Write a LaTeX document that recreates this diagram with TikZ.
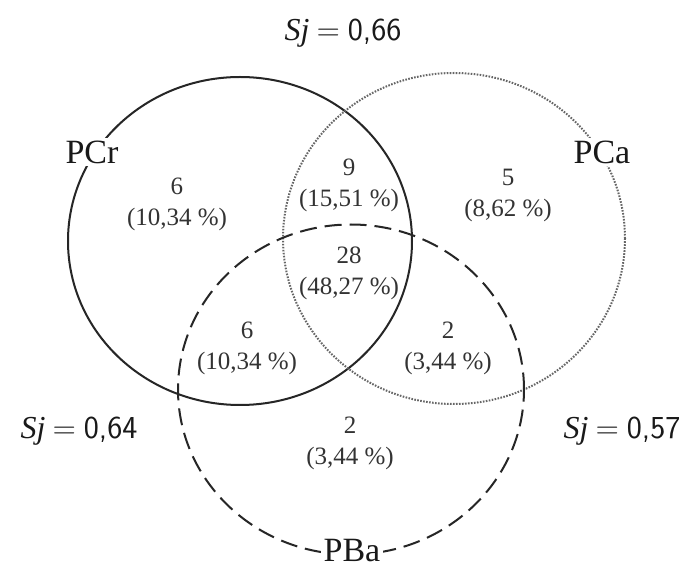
\documentclass[tikz,border=0pt]{standalone}
\usepackage{fontspec}
\setmainfont{Liberation Serif}
\begin{document}
\begin{tikzpicture}[x=1pt,y=-1pt,
  setA/.style={line width=2pt, black!85},
  setB/.style={line width=2pt, black!60, dash pattern=on 1.6pt off 1.4pt},
  setC/.style={line width=2pt, black!85, dash pattern=on 17pt off 8pt},
  setlabel/.style={fill=white, inner sep=3pt, text=black!90, font=\fontsize{34}{36}\selectfont},
  region/.style={align=center, text=black!80, inner sep=0pt, font=\fontsize{25}{31}\selectfont},
  sjlabel/.style={inner sep=0pt, text=black!90, font=\fontsize{32}{34}\selectfont}]
\useasboundingbox (0,0) rectangle (689,569);
\fill[white] (0,0) rectangle (689,569);
% circles
\draw[setA] (240,241) ellipse [x radius=172pt, y radius=164pt];
\draw[setB] (454,238.5) ellipse [x radius=171pt, y radius=165.5pt];
\draw[setC] (351,389.5) ellipse [x radius=173pt, y radius=165pt];
% set labels
\node[setlabel] (pcr) at (92,152) {PCr};
\node[setlabel] (pca) at (602,152) {PCa};
\node[setlabel] (pba) at (352,551) {PBa};
% region counts
\node[region] (r1) at (177,204) {6\\(10,34 \%)};
\node[region] (r2) at (349,185) {9\\(15,51 \%)};
\node[region] (r3) at (508,195) {5\\(8,62 \%)};
\node[region] (r4) at (349,273) {28\\(48,27 \%)};
\node[region] (r5) at (247,348) {6\\(10,34 \%)};
\node[region] (r6) at (448,348) {2\\(3,44 \%)};
\node[region] (r7) at (350,443) {2\\(3,44 \%)};
% similarity indices
\node[sjlabel] (sj1) at (343,33) {\textit{Sj}\kern7pt{\sffamily =\kern8pt 0,66}};
\node[sjlabel] (sj2) at (79,431) {\textit{Sj}\kern7pt{\sffamily =\kern8pt 0,64}};
\node[sjlabel] (sj3) at (622,431) {\textit{Sj}\kern7pt{\sffamily =\kern8pt 0,57}};
\end{tikzpicture}
\end{document}
